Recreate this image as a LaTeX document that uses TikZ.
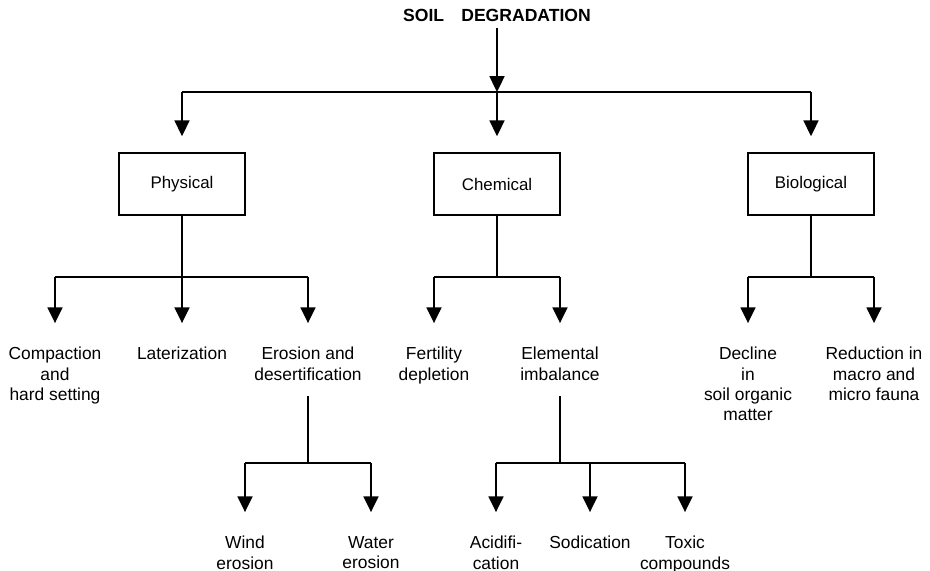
\documentclass[tikz,border=0pt]{standalone}
\usepackage{fontspec}
\setmainfont{Liberation Sans}
\usetikzlibrary{arrows.meta}

\tikzset{
  branch/.style={line width=1.1pt},
  drop/.style={branch, -{Triangle[width=8.5pt,length=9pt]}, shorten >=#1},
  drop/.default=9pt,
  group/.style={draw, line width=1.1pt, minimum width=2.52cm, minimum height=1.24cm,
    font=\fontsize{9.6pt}{11.4pt}\selectfont},
  leaf/.style={anchor=north, align=center, inner sep=0pt,
    font=\fontsize{9.9pt}{11.5pt}\selectfont},
}

\begin{document}
\begin{tikzpicture}[x=0.02cm, y=-0.02cm]
  \useasboundingbox (0,0) rectangle (930,571);
  % root and the three kinds
  \node[font=\fontsize{10pt}{12pt}\selectfont\bfseries] (title) at (497,15.5) {SOIL\hspace{7pt} DEGRADATION};
  \coordinate (top) at (497,92);
  \node[group] (phys) at (182,184) {Physical};
  \node[group] (chem) at (497,184) {Chemical};
  \node[group] (bio) at (811,184) {Biological};
  \draw[drop=0pt] (title) -- (top);
  \draw[branch] (phys |- top) -- (bio |- top);
  \foreach \g in {phys,chem,bio}
    \draw[drop] (\g |- top) -- (\g);
  % second row
  \node[leaf] (comp) at (55,347) {Compaction\\and\\hard setting};
  \node[leaf] (later) at (182,347) {Laterization};
  \node[leaf] (eros) at (308,347) {Erosion and\\desertification};
  \node[leaf] (fert) at (434,347) {Fertility\\depletion};
  \node[leaf] (elem) at (560,347) {Elemental\\imbalance};
  \node[leaf] (decl) at (748,347) {Decline\\in\\soil organic\\matter};
  \node[leaf] (redu) at (874,347) {Reduction in\\macro and\\micro fauna};
  \coordinate (pj) at (182,277);
  \coordinate (cj) at (497,277);
  \coordinate (bj) at (811,277);
  \draw[branch] (phys) -- (pj);
  \draw[branch] (chem) -- (cj);
  \draw[branch] (bio) -- (bj);
  \draw[branch] (comp |- pj) -- (eros |- pj);
  \draw[branch] (fert |- cj) -- (elem |- cj);
  \draw[branch] (decl |- bj) -- (redu |- bj);
  \foreach \l/\j in {comp/pj,later/pj,eros/pj,fert/cj,elem/cj,decl/bj,redu/bj}
    \draw[drop=13.6pt] (\l |- \j) -- (\l);
  % third row
  \node[leaf] (wind) at (245,536) {Wind\\erosion};
  \node[leaf] (water) at (371,536) {Water\\erosion};
  \node[leaf] (acid) at (496,536) {Acidifi-\\cation};
  \node[leaf] (sodi) at (590,536) {Sodication};
  \node[leaf] (toxi) at (685,536) {Toxic\\compounds};
  \coordinate (ej) at (308,463);
  \coordinate (lj) at (560,463);
  \draw[branch, shorten <=9pt] (eros) -- (ej);
  \draw[branch, shorten <=9pt] (elem) -- (lj);
  \draw[branch] (wind |- ej) -- (water |- ej);
  \draw[branch] (acid |- lj) -- (toxi |- lj);
  \foreach \l/\j in {wind/ej,water/ej,acid/lj,sodi/lj,toxi/lj}
    \draw[drop=13.6pt] (\l |- \j) -- (\l);
\end{tikzpicture}
\end{document}
